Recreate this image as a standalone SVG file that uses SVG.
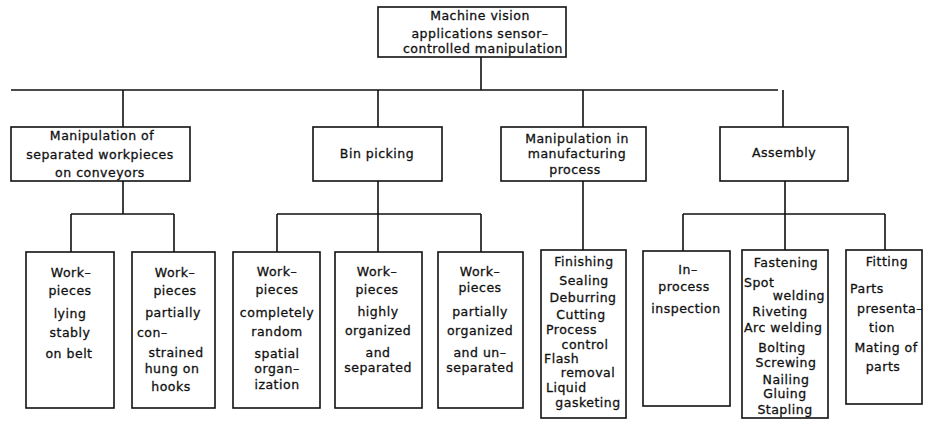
<svg xmlns="http://www.w3.org/2000/svg" width="925" height="421" viewBox="0 0 925 421">
<style>
rect{fill:#fff;stroke:#111;stroke-width:1.6}
.c path{fill:none;stroke:#111;stroke-width:1.6}
text{font-family:"DejaVu Sans","Liberation Sans",sans-serif;font-size:12.5px;letter-spacing:0.5px;fill:#111;stroke:#111;stroke-width:0.3;text-anchor:middle}
.l{text-anchor:start}
.r{text-anchor:end}
</style>
<rect x="0" y="0" width="925" height="421" style="fill:#fff;stroke:none"/>
<g class="c" id="connectors">
<path d="M481 57V90M11 90H778M123 90V127M378 90V127M583 90V127M783 90V127"/>
<path d="M123 181V214M71 214H174M71 214V252M174 214V252"/>
<path d="M378 181V214M277 214H481M277 214V252M378 214V252M481 214V252"/>
<path d="M583 181V250"/>
<path d="M785 181V250M683 214H885M683 214V251M885 214V250"/>
</g>
<g id="root"><rect x="378" y="7" width="188" height="50"/>
<text x="480" y="20">Machine vision</text><text x="480" y="38">applications sensor–</text><text x="483" y="53">controlled manipulation</text></g>
<g id="n-sep"><rect x="11" y="127" width="179" height="54"/>
<text x="102" y="140">Manipulation of</text><text x="100" y="159">separated workpieces</text><text x="100" y="177">on conveyors</text></g>
<g id="n-bin"><rect x="313" y="127" width="129" height="54"/>
<text x="377" y="158">Bin picking</text></g>
<g id="n-mfg"><rect x="501" y="127" width="145" height="54"/>
<text x="577" y="143">Manipulation in</text><text x="577" y="158">manufacturing</text><text x="575" y="174">process</text></g>
<g id="n-asm"><rect x="720" y="127" width="128" height="54"/>
<text x="784" y="157">Assembly</text></g>
<g id="n-belt"><rect x="26" y="252" width="88" height="156"/>
<text x="71" y="277">Work–</text><text x="70" y="295">pieces</text><text x="70" y="318">lying</text><text x="70" y="337">stably</text><text x="69" y="358">on belt</text></g>
<g id="n-hooks"><rect x="132" y="252" width="83" height="156"/>
<text x="175" y="277">Work–</text><text x="175" y="295">pieces</text><text x="173" y="317">partially</text><text class="l" x="137" y="337">con–</text><text x="176" y="357">strained</text><text x="172" y="373">hung on</text><text x="171" y="391">hooks</text></g>
<g id="n-random"><rect x="233" y="252" width="87" height="156"/>
<text x="277" y="276">Work–</text><text x="277" y="294">pieces</text><text x="277" y="317">completely</text><text x="277" y="336">random</text><text x="277" y="358">spatial</text><text x="277" y="373">organ–</text><text x="277" y="389">ization</text></g>
<g id="n-org"><rect x="335" y="252" width="87" height="156"/>
<text x="377" y="276">Work–</text><text x="377" y="294">pieces</text><text x="378" y="316">highly</text><text x="378" y="335">organized</text><text x="378" y="357">and</text><text x="378" y="372">separated</text></g>
<g id="n-part"><rect x="438" y="252" width="85" height="156"/>
<text x="480" y="276">Work–</text><text x="480" y="292">pieces</text><text x="480" y="316">partially</text><text x="480" y="335">organized</text><text x="480" y="357">and un–</text><text x="480" y="372">separated</text></g>
<g id="n-fin"><rect x="541" y="250" width="85" height="168"/>
<text x="584" y="266">Finishing</text><text x="584" y="285">Sealing</text><text x="583" y="302">Deburring</text><text x="581" y="319">Cutting</text><text class="l" x="546" y="334">Process</text><text x="585" y="349">control</text><text class="l" x="544" y="363">Flash</text><text x="588" y="377">removal</text><text class="l" x="546" y="392">Liquid</text><text x="588" y="407">gasketing</text></g>
<g id="n-insp"><rect x="643" y="251" width="87" height="155"/>
<text x="688" y="274">In–</text><text x="684" y="291">process</text><text x="686" y="313">inspection</text></g>
<g id="n-fast"><rect x="742" y="250" width="86" height="168"/>
<text x="786" y="267">Fastening</text><text class="l" x="744" y="287">Spot</text><text class="r" x="825" y="300">welding</text><text x="780" y="316">Riveting</text><text class="l" x="744" y="332">Arc welding</text><text x="782" y="352">Bolting</text><text x="786" y="367">Screwing</text><text x="786" y="384">Nailing</text><text x="785" y="398">Gluing</text><text x="785" y="414">Stapling</text></g>
<g id="n-fit"><rect x="846" y="250" width="76" height="154"/>
<text x="887" y="266">Fitting</text><text class="l" x="850" y="293">Parts</text><text x="890" y="313">presenta–</text><text x="882" y="332">tion</text><text x="886" y="352">Mating of</text><text x="883" y="371">parts</text></g>
</svg>
